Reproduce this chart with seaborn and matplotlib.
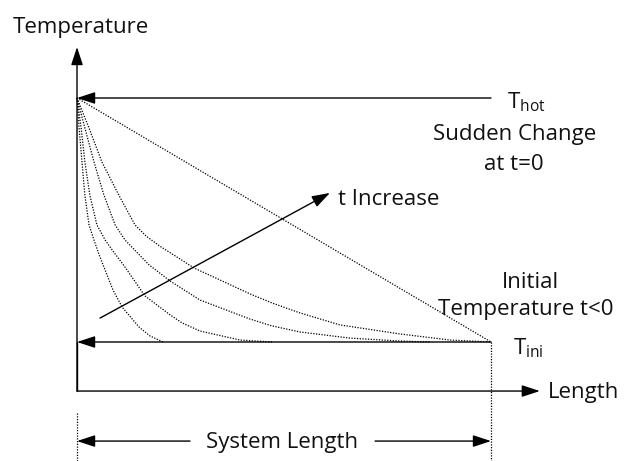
import numpy as np
import pandas as pd
import matplotlib
matplotlib.use("Agg")
import matplotlib.pyplot as plt
import seaborn as sns

# Temperature profiles
# length as fraction of system length, temperature scaled T_ini=0 .. T_hot=1
CURVE_1_X = [0, .005, .012, .019, .029, .041, .051, .065, .087, .109, .150, .176, .208]
CURVE_1_T = [1, .877, .738, .602, .480, .418, .369, .307, .213, .143, .061, .025, 0]
CURVE_2_X = [0, .010, .019, .031, .048, .068, .085, .116, .164, .225, .254, .297, .394, .471]
CURVE_2_T = [1, .877, .738, .602, .480, .418, .377, .307, .189, .111, .078, .045, .008, 0]
CURVE_3_X = [0, .019, .041, .065, .092, .116, .174, .225, .297, .418, .471, .539, .659, .780, .853]
CURVE_3_T = [1, .877, .738, .602, .480, .418, .316, .250, .172, .094, .066, .041, .016, .004, 0]
CURVE_4_X = [0, .029, .060, .101, .140, .167, .200, .283, .418, .471, .539, .635, .780, .901, 1.0]
CURVE_4_T = [1, .877, .738, .602, .480, .434, .393, .303, .197, .160, .119, .070, .033, .008, 0]
STEADY_X = [0, 1]
STEADY_T = [1, 0]

T_HOT, T_INI = 1.0, 0.0
SYS_LEN = 1.0

sns.set_style("white")
plt.rcParams["font.family"] = ["Open Sans", "DejaVu Sans"]
plt.rcParams["mathtext.fontset"] = "custom"
plt.rcParams["mathtext.rm"] = "Open Sans"

fig = plt.figure(figsize=(6.3, 4.61), dpi=100)
ax = fig.add_axes([0, 0, 1, 1])
ax.set_xlim(-0.186, 1.3357)
ax.set_ylim(-0.4877, 1.4016)
ax.axis("off")

dot = (0, (1.0, 1.2))
for cx, ct in [(CURVE_1_X, CURVE_1_T), (CURVE_2_X, CURVE_2_T),
               (CURVE_3_X, CURVE_3_T), (CURVE_4_X, CURVE_4_T),
               (STEADY_X, STEADY_T)]:
    df = pd.DataFrame({"x": cx, "t": ct})
    sns.lineplot(data=df, x="x", y="t", ax=ax, color="black", lw=0.9,
                 linestyle=dot, estimator=None, sort=False)


def arrow(tail, tip):
    ax.annotate("", xy=tip, xytext=tail,
                arrowprops=dict(arrowstyle="-|>,head_length=1.1,head_width=0.36",
                                mutation_scale=10, color="black", lw=1.0,
                                shrinkA=0, shrinkB=0))


y_axis = -0.201
# axes
arrow((0, y_axis), (0, 1.209))
arrow((0, y_axis), (1.118, y_axis))
ax.plot([0, 0], [y_axis, 0], color="black", lw=1.0)
# boundary lines
arrow((SYS_LEN, T_HOT), (0, T_HOT))
arrow((SYS_LEN, T_INI), (0, T_INI))
# t increase
arrow((0.0556, 0.098), (0.611, 0.611))
# system length dimension
dim_y = -0.406
arrow((0.273, dim_y), (0, dim_y))
arrow((0.720, dim_y), (SYS_LEN, dim_y))
ax.plot([0, 0], [-0.291, -0.49], color="black", lw=0.9, linestyle=dot)
ax.plot([SYS_LEN, SYS_LEN], [T_INI, -0.49], color="black", lw=0.9, linestyle=dot)

fs = 16
kw = dict(fontsize=fs, va="baseline", color="#111111")
ax.text(-0.155, 1.266, "Temperature", ha="left", **kw)
ax.text(1.138, -0.230, "Length", ha="left", **kw)
ax.text(1.039, 0.959, r"T$_{\mathrm{hot}}$", ha="left", **kw)
ax.text(1.056, 0.828, "Sudden Change", ha="center", **kw)
ax.text(1.056, 0.705, "at t=0", ha="center", **kw)
ax.text(1.095, 0.221, "Initial", ha="center", **kw)
ax.text(1.085, 0.111, "Temperature t<0", ha="center", **kw)
ax.text(1.053, -0.049, r"T$_{\mathrm{ini}}$", ha="left", **kw)
ax.text(0.630, 0.561, "t Increase", ha="left", **kw)
ax.text(0.4965, -0.434, "System Length", ha="center", **kw)

fig.savefig("out.png", dpi=100)
